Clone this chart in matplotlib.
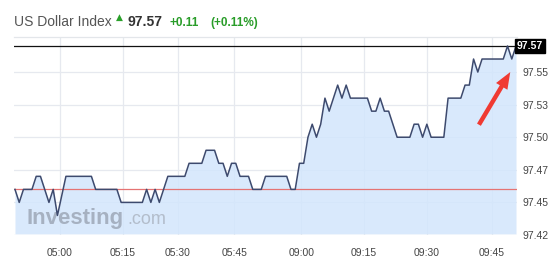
import matplotlib
matplotlib.use("Agg")
import matplotlib.pyplot as plt

plt.rcParams['font.family'] = ['Liberation Sans', 'DejaVu Sans']

# one price per minute (index axis, session gap squeezed out like the original)
prices = [
    97.46, 97.45, 97.46, 97.46, 97.46, 97.47, 97.47, 97.46, 97.45, 97.46,
    97.44, 97.455, 97.47, 97.47, 97.47, 97.47, 97.47, 97.47, 97.47, 97.46,
    97.46, 97.46, 97.46, 97.46, 97.46, 97.45, 97.45, 97.45, 97.45, 97.45,
    97.45, 97.46, 97.45, 97.46, 97.45, 97.46, 97.47, 97.47, 97.47, 97.47,
    97.47, 97.48, 97.48, 97.48, 97.48, 97.49, 97.49, 97.49, 97.48, 97.48,
    97.47, 97.48, 97.48, 97.47, 97.47, 97.47, 97.46, 97.46, 97.46, 97.47,
    97.47, 97.47, 97.47, 97.47, 97.47, 97.46, 97.46, 97.48, 97.48, 97.50,
    97.51, 97.50, 97.51, 97.53, 97.52, 97.53, 97.54, 97.53, 97.54, 97.53,
    97.53, 97.53, 97.53, 97.53, 97.52, 97.52, 97.53, 97.52, 97.52, 97.51,
    97.50, 97.50, 97.50, 97.50, 97.51, 97.51, 97.50, 97.51, 97.50, 97.50,
    97.50, 97.50, 97.53, 97.53, 97.53, 97.53, 97.54, 97.54, 97.56, 97.55,
    97.56, 97.56, 97.56, 97.56, 97.56, 97.56, 97.57, 97.56, 97.57,
]
prev_close = 97.46
last_price = 97.57
change = "+0.11"
change_pct = "(+0.11%)"
title = "US Dollar Index"

time_labels = ["05:00", "05:15", "05:30", "05:45", "09:00", "09:15", "09:30", "09:45"]
time_ticks = [10.6, 25.4, 38.4, 51.6, 67.4, 82.2, 97.0, 112.3]
price_ticks = [97.425, 97.45, 97.475, 97.50, 97.525, 97.55]
price_labels = ["97.42", "97.45", "97.47", "97.50", "97.53", "97.55"]

x = list(range(len(prices)))

fig = plt.figure(figsize=(5.54, 2.68), dpi=100)
ax = fig.add_axes([14.3 / 554, 33 / 268, 502.4 / 554, 198 / 268])

ax.set_xlim(-0.16, len(prices) - 1 + 0.16)
ax.set_ylim(97.4259, 97.5769)

# grid first, then a slightly see-through fill
for t in time_ticks:
    ax.axvline(t, color='#e6e9ef', lw=0.9, zorder=0)
for p in price_ticks:
    ax.axhline(p, color='#e6e9ef', lw=0.9, zorder=0)

ax.fill_between(x, prices, 97.4259, color='#d3e6fc', alpha=0.85, lw=0, zorder=1)

# watermark
ax.text(0.025, 0.055, "Investing", transform=ax.transAxes, fontsize=16, fontweight='bold',
        color='#a6b1c1', zorder=2)
ax.text(0.225, 0.055, ".com", transform=ax.transAxes, fontsize=13,
        color='#b3bdcb', zorder=2)

ax.axhline(prev_close, color='#e57373', lw=0.9, zorder=3)
ax.axhline(last_price, color='#111111', lw=0.9, zorder=3)
ax.plot(x, prices, color='#3d4a6e', lw=1.1, zorder=4)

for s in ['left', 'right', 'bottom']:
    ax.spines[s].set_visible(False)
ax.spines['top'].set_color('#e3e6ea')
ax.spines['top'].set_linewidth(0.9)

ax.set_xticks(time_ticks)
ax.set_xticklabels(time_labels)
ax.yaxis.tick_right()
ax.set_yticks(price_ticks)
ax.set_yticklabels(price_labels)
ax.tick_params(axis='x', length=0, pad=9, labelsize=7.5, labelcolor='#444444')
ax.tick_params(axis='y', length=0, pad=4, labelsize=7.5, labelcolor='#444444')

# current price tag
ax.text(1.0, last_price, "97.57", transform=ax.get_yaxis_transform(), ha='left', va='center',
        fontsize=7.5, fontweight='bold', color='white',
        bbox=dict(boxstyle='square,pad=0.18', fc='black', ec='black'), zorder=5)

# red annotation arrow
ax.annotate('', xy=(0.990, 0.835), xytext=(0.922, 0.545), xycoords='axes fraction',
            arrowprops=dict(arrowstyle='simple,head_length=1.2,head_width=0.95,tail_width=0.32',
                            color='#f03a32', lw=0), zorder=6)

# header
fig.text(14 / 554, 1 - 26 / 268, title, fontsize=10, color='#555555', va='baseline')
fig.text(119.5 / 554, 1 - 17 / 268, "\u25b2", fontsize=6.5, color='#2aa02a', ha='center', va='center',
         family=['DejaVu Sans'])
fig.text(127 / 554, 1 - 26 / 268, "97.57", fontsize=10, fontweight='bold', color='#333333', va='baseline')
fig.text(170 / 554, 1 - 26 / 268, change, fontsize=8.5, fontweight='bold', color='#2a9d2a', va='baseline')
fig.text(210 / 554, 1 - 26 / 268, change_pct, fontsize=8.5, fontweight='bold', color='#2a9d2a', va='baseline')

fig.savefig("out.png", dpi=100)
